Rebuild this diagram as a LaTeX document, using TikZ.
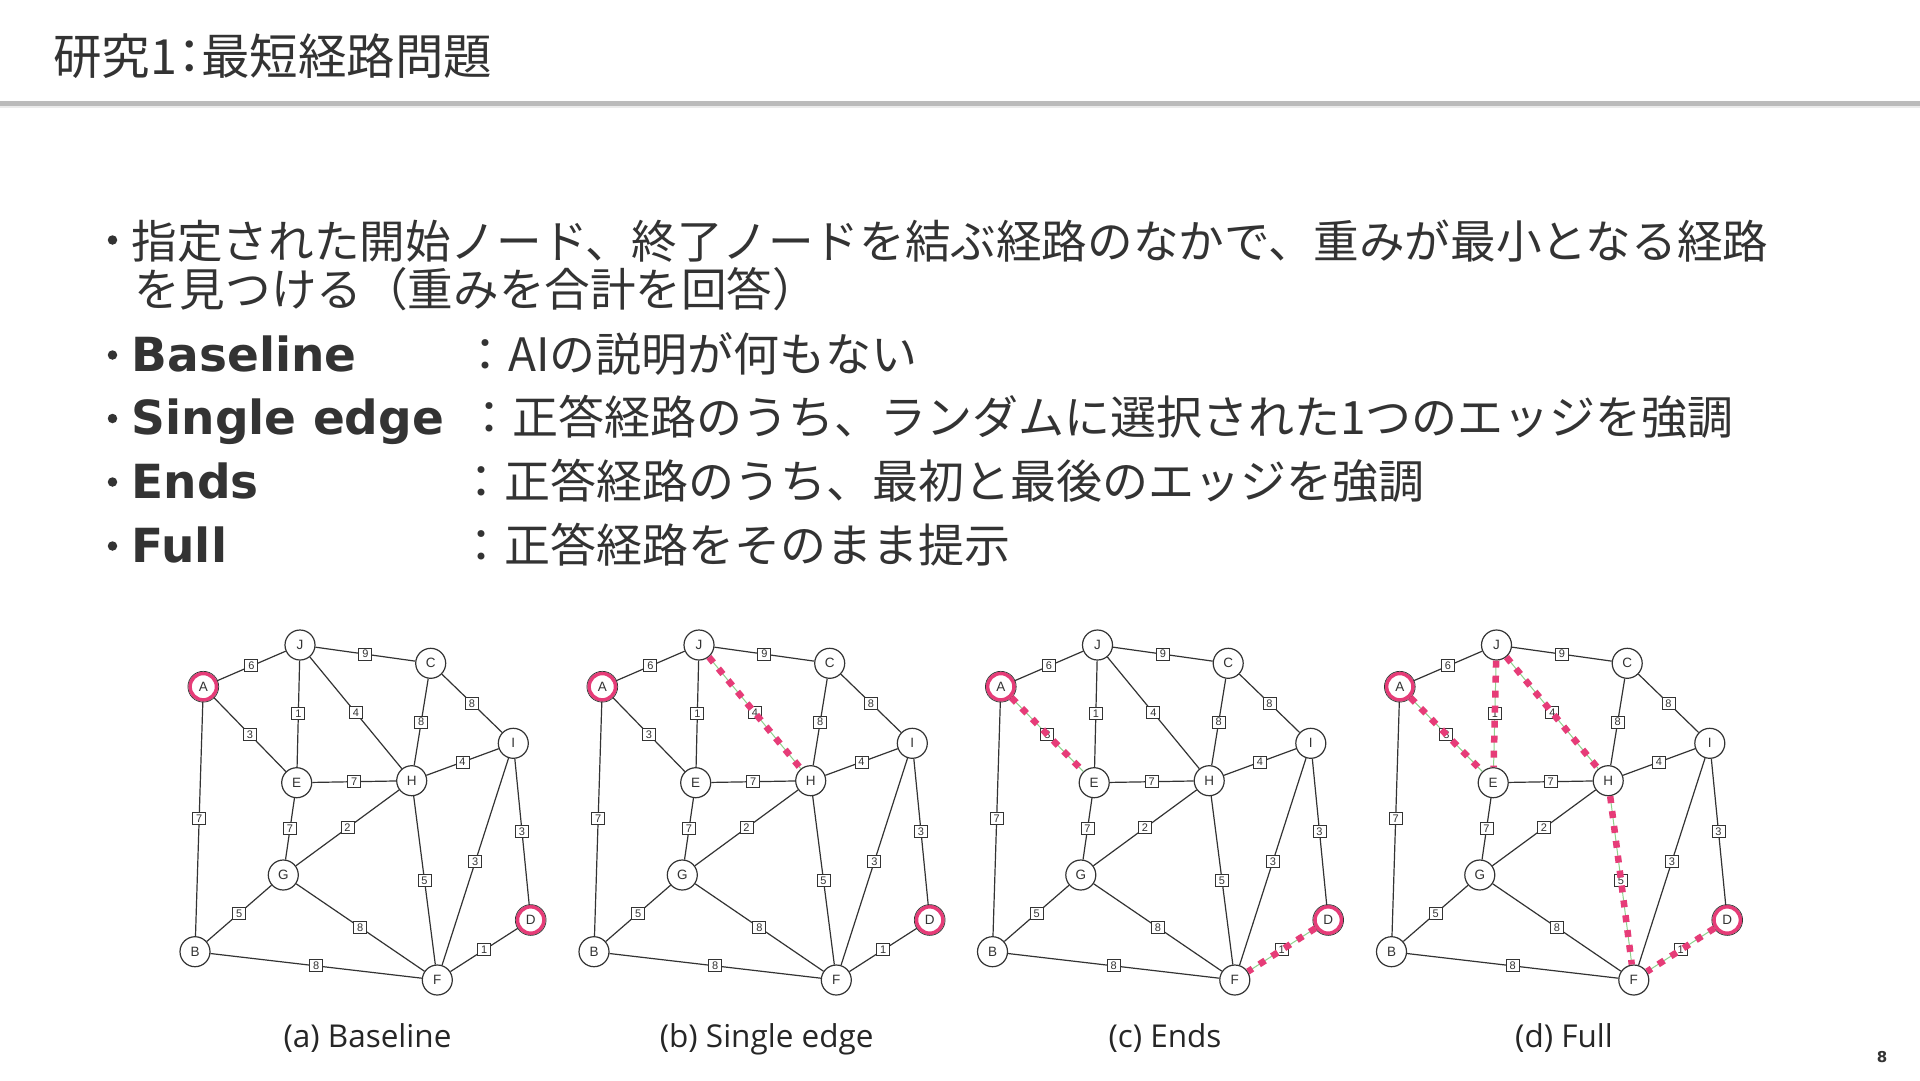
\documentclass[tikz,border=0pt]{standalone}
\usepackage{fontspec}
\setmainfont{Noto Sans CJK JP}
\newfontfamily\jpf{Noto Sans CJK JP}
\newfontfamily\jptf[RawFeature=+palt]{Noto Sans CJK JP}
\newfontfamily\latf{DejaVu Sans}
\newfontfamily\gf{Liberation Sans}
\newfontfamily\capf{Open Sans}
\definecolor{txt}{HTML}{333333}
\definecolor{ecol}{HTML}{333333}
\definecolor{pinkc}{RGB}{230,60,120}
\definecolor{greenc}{RGB}{140,210,140}
\definecolor{rulec}{HTML}{BBBBBB}
\tikzset{
 gnode/.style={circle, draw=ecol, line width=1.2pt, minimum size=30pt, inner sep=0pt, fill=white, font=\gf\fontsize{13.5pt}{13.5pt}\selectfont, text=ecol},
 endnode/.style={gnode, draw=pinkc, line width=3.6pt, minimum size=26.5pt},
 gline/.style={draw=ecol, line width=1.2pt},
 elbl/.style={draw=ecol, fill=white, line width=1pt, inner sep=0.8pt, minimum width=13pt, minimum height=12pt, font=\gf\fontsize{11pt}{11pt}\selectfont, text=ecol},
 hlg/.style={draw=greenc, line width=1pt},
 hlp/.style={draw=pinkc, line width=6.5pt, dash pattern=on 7pt off 8pt},
 bodytxt/.style={anchor=base west, inner sep=0pt, text=txt, font=\jpf\fontsize{46pt}{55pt}\selectfont},
 bul/.style={circle, fill=txt, inner sep=0pt, minimum size=9.5pt},
 captxt/.style={anchor=base, inner sep=0pt, text=black!85, font=\capf\fontsize{31.5pt}{31.5pt}\selectfont},
}
\newcommand\latb{\latf\bfseries\fontsize{47pt}{55pt}\selectfont}
\newcommand\hl[3]{\expandafter\def\csname hl#1#2#3\endcsname{}}
\newcommand\gedge[4]{%
 \ifcsname hl#1#2#3\endcsname
   \draw[hlg] (#1#2) -- (#1#3) node[elbl,midway]{#4};
   \draw[hlp] (#1#2) -- (#1#3);
 \else
   \draw[gline] (#1#2) -- (#1#3) node[elbl,midway]{#4};
 \fi}
\newcommand\drawgraph[2]{%
\begin{scope}[xshift=#2pt]
\node[endnode] (#1A) at (203.3,686.7) {A};
\node[gnode] (#1J) at (300,645) {J};
\node[gnode] (#1C) at (430.7,663.3) {C};
\node[gnode] (#1I) at (513.3,743.3) {I};
\node[gnode] (#1E) at (296.7,782.7) {E};
\node[gnode] (#1H) at (411.7,780.7) {H};
\node[gnode] (#1G) at (283.3,875) {G};
\node[endnode] (#1D) at (530.7,920) {D};
\node[gnode] (#1B) at (195,951.7) {B};
\node[gnode] (#1F) at (437.3,980) {F};
\draw[ecol,line width=0.7pt] (#1A.center) circle (15.4pt);
\draw[ecol,line width=0.7pt] (#1D.center) circle (15.4pt);
\gedge{#1}{A}{J}{6}
\gedge{#1}{J}{C}{9}
\gedge{#1}{A}{E}{3}
\gedge{#1}{J}{E}{1}
\gedge{#1}{J}{H}{4}
\gedge{#1}{C}{H}{8}
\gedge{#1}{C}{I}{8}
\gedge{#1}{E}{H}{7}
\gedge{#1}{H}{I}{4}
\gedge{#1}{A}{B}{7}
\gedge{#1}{E}{G}{7}
\gedge{#1}{G}{H}{2}
\gedge{#1}{I}{D}{3}
\gedge{#1}{I}{F}{3}
\gedge{#1}{H}{F}{5}
\gedge{#1}{B}{G}{5}
\gedge{#1}{G}{F}{8}
\gedge{#1}{D}{F}{1}
\gedge{#1}{B}{F}{8}
\end{scope}}
\hl{b}{J}{H}
\hl{c}{A}{E}\hl{c}{D}{F}
\hl{d}{A}{E}\hl{d}{J}{E}\hl{d}{J}{H}\hl{d}{H}{F}\hl{d}{D}{F}
\begin{document}
\begin{tikzpicture}[x=1pt,y=-1pt]
\fill[white] (0,0) rectangle (1920,1080);
\useasboundingbox (0,0) rectangle (1920,1080);
% title
\node[anchor=base west, inner sep=0pt, text=txt, font=\jptf\fontsize{48.5pt}{48.5pt}\selectfont] (title) at (53,74.7) {研究1：最短経路問題};
\draw[rulec, line width=5pt] (0,103) -- (1920,103);
\draw[black!8, line width=2pt] (0,106.5) -- (1920,106.5);
% bullets
\node[bul] (d1) at (112.5,240) {};
\node[bodytxt, font=\jpf\fontsize{45.6pt}{55pt}\selectfont] (l1) at (131.5,258) {指定された開始ノード、終了ノードを結ぶ経路のなかで、重みが最小となる経路};
\node[bodytxt, font=\jpf\fontsize{45.6pt}{55pt}\selectfont] (l2) at (134,306) {を見つける（重みを合計を回答）};
\node[bul] (d2) at (112.5,355) {};
\node[bodytxt] (b1) at (131.5,371) {\latb Baseline};
\node[bodytxt] (c1) at (462,371) {：AIの説明が何もない};
\node[bul] (d3) at (112.5,418.5) {};
\node[bodytxt] (b2) at (131.5,434.5) {\latb Single edge};
\node[bodytxt] (c2) at (466,434.5) {：正答経路のうち、ランダムに選択された1つのエッジを強調};
\node[bul] (d4) at (112.5,482) {};
\node[bodytxt] (b3) at (131.5,498) {\latb Ends};
\node[bodytxt] (c3) at (458,498) {：正答経路のうち、最初と最後のエッジを強調};
\node[bul] (d5) at (112.5,546) {};
\node[bodytxt] (b4) at (131.5,562) {\latb Full};
\node[bodytxt] (c4) at (458,562) {：正答経路をそのまま提示};
% graphs
\drawgraph{a}{0}
\drawgraph{b}{399}
\drawgraph{c}{797.5}
\drawgraph{d}{1196.5}
% captions
\node[captxt] (capa) at (367.5,1047) {(a) Baseline};
\node[captxt] (capb) at (766.7,1047) {(b) Single edge};
\node[captxt] (capc) at (1165,1047) {(c) Ends};
\node[captxt] (capd) at (1564,1047) {(d) Full};
% page number
\node[inner sep=0pt, text=txt, font=\latf\bfseries\fontsize{15pt}{15pt}\selectfont] (pg) at (1882,1057) {8};
\end{tikzpicture}
\end{document}
